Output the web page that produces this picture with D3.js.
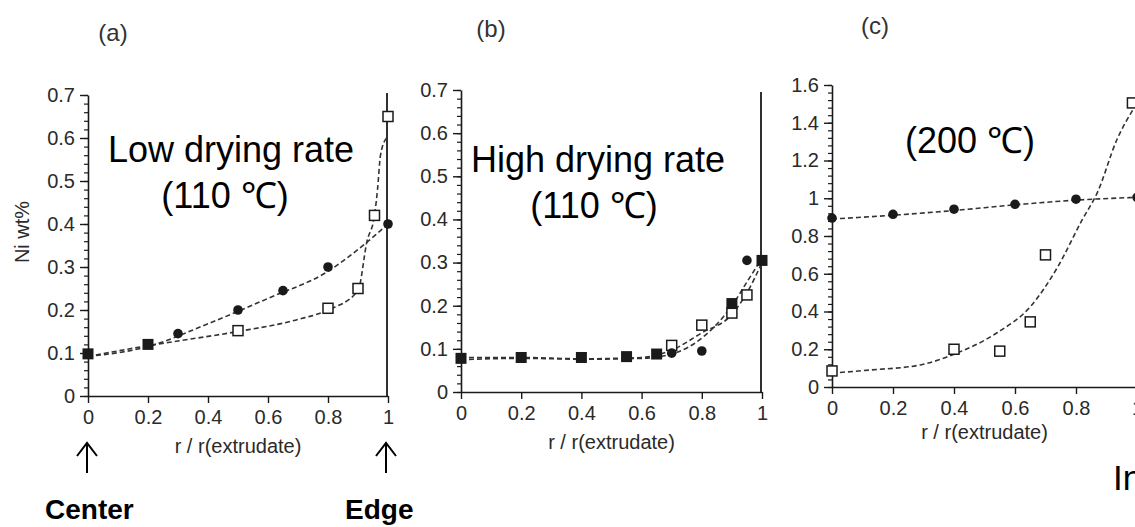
<!DOCTYPE html>
<html lang="en">
<head>
<meta charset="utf-8">
<title>Ni wt% profiles</title>
<script src="https://cdn.jsdelivr.net/npm/d3@7"></script>
<style>
  body { margin: 0; background: #fff; }
  svg { display: block; font-family: "Liberation Sans", Arial, sans-serif; }
</style>
</head>
<body>
<svg id="chart" width="1135" height="527"></svg>
<script>
// ---- data ----
var xTicks = [0, 0.2, 0.4, 0.6, 0.8, 1];
var yTicksAB = [0, 0.1, 0.2, 0.3, 0.4, 0.5, 0.6, 0.7];
var yTicksC = [0, 0.2, 0.4, 0.6, 0.8, 1, 1.2, 1.4, 1.6];

// (a) low drying rate, 110 C
var aCircles = [[0.3, 0.145], [0.5, 0.2], [0.65, 0.245], [0.8, 0.3], [1.0, 0.4]];
var aSquares = [[0.5, 0.152], [0.8, 0.204], [0.9, 0.25], [0.955, 0.42], [1.0, 0.65]];
var aSolid = [[0, 0.098], [0.2, 0.12]];
var aCircFit = [[0, 0.092], [0.2, 0.115], [0.4, 0.168], [0.6, 0.227], [0.8, 0.29], [0.92, 0.352], [1.0, 0.4]];
var aSqFit = [[0, 0.092], [0.2, 0.117], [0.3, 0.128], [0.5, 0.15], [0.7, 0.178], [0.8, 0.2], [0.9, 0.245],
              [0.93, 0.36], [0.955, 0.42], [0.965, 0.48], [0.975, 0.56], [0.995, 0.6]];

// (b) high drying rate, 110 C
var bCircles = [[0.7, 0.09], [0.8, 0.095], [0.95, 0.305]];
var bSquares = [[0.7, 0.108], [0.8, 0.155], [0.9, 0.183], [0.95, 0.225]];
var bSolid = [[0, 0.078], [0.2, 0.08], [0.4, 0.08], [0.55, 0.082], [0.65, 0.088], [0.9, 0.205], [1.0, 0.305]];
var bCircFit = [[0, 0.075], [0.2, 0.078], [0.4, 0.076], [0.6, 0.078], [0.7, 0.088], [0.8, 0.125], [0.9, 0.2], [0.95, 0.255], [1.0, 0.31]];
var bSqFit = [[0, 0.08], [0.2, 0.08], [0.4, 0.077], [0.6, 0.08], [0.7, 0.097], [0.8, 0.137], [0.9, 0.18], [0.95, 0.23], [1.0, 0.3]];

// (c) 200 C
var cCircles = [[0, 0.895], [0.2, 0.915], [0.4, 0.942], [0.6, 0.968], [0.8, 0.995], [1.0, 1.005]];
var cSquares = [[0, 0.085], [0.4, 0.2], [0.55, 0.19], [0.65, 0.345], [0.7, 0.7], [0.985, 1.505]];
var cSolid = [];
var cCircFit = [[0, 0.89], [0.2, 0.91], [0.4, 0.935], [0.6, 0.965], [0.8, 0.99], [1.0, 1.005]];
var cSqFit = [[0, 0.074], [0.125, 0.09], [0.29, 0.117], [0.41, 0.18], [0.54, 0.286], [0.65, 0.425],
              [0.74, 0.636], [0.82, 0.885], [0.87, 1.03], [0.934, 1.31], [0.987, 1.47]];

var svg = d3.select("#chart");
var fmt = d3.format(".1~f");
var ink = "#1a1a1a";

function panel(p) {
  var x = d3.scaleLinear().domain([0, 1]).range([p.left, p.right]);
  var y = d3.scaleLinear().domain([0, p.ymax]).range([p.bottom, p.top]);
  var g = svg.append("g");

  // minor y ticks
  g.append("g")
    .attr("transform", "translate(" + p.left + ",0)")
    .call(d3.axisLeft(y).tickValues(d3.range(0, p.ymax + 1e-9, p.minor)).tickSize(4).tickFormat(""))
    .call(function(s) { s.select(".domain").remove(); s.selectAll("line").attr("stroke", ink).attr("stroke-width", 1.2); });

  // major y axis
  g.append("g")
    .attr("transform", "translate(" + p.left + ",0)")
    .call(d3.axisLeft(y).tickValues(p.yticks).tickSize(8).tickPadding(5).tickSizeOuter(0).tickFormat(fmt))
    .call(function(s) {
      s.select(".domain").attr("stroke", ink).attr("stroke-width", 1.6);
      s.selectAll("line").attr("stroke", ink).attr("stroke-width", 1.4);
      s.selectAll("text").attr("font-size", 20).attr("fill", "#2a2a2a");
    });

  // x axis
  g.append("g")
    .attr("transform", "translate(0," + p.bottom + ")")
    .call(d3.axisBottom(x).tickValues(xTicks).tickSize(7).tickPadding(7).tickSizeOuter(0).tickFormat(fmt))
    .call(function(s) {
      s.select(".domain").attr("stroke", ink).attr("stroke-width", 1.6);
      s.selectAll("line").attr("stroke", ink).attr("stroke-width", 1.4);
      s.selectAll("text").attr("font-size", 20).attr("fill", "#2a2a2a");
    });

  // edge line at r = 1
  g.append("line")
    .attr("x1", x(1) - 1).attr("x2", x(1) - 1)
    .attr("y1", p.bottom).attr("y2", p.edgeTop)
    .attr("stroke", ink).attr("stroke-width", 1.8);

  g.append("text")
    .attr("x", x(0.5)).attr("y", p.xlabY)
    .attr("text-anchor", "middle").attr("font-size", 20).attr("fill", "#2a2a2a")
    .text("r / r(extrudate)");

  // fitted dashed curves
  var line = d3.line().x(function(d) { return x(d[0]); }).y(function(d) { return y(d[1]); }).curve(d3.curveMonotoneX);
  [p.circFit, p.sqFit].forEach(function(f) {
    g.append("path").attr("d", line(f))
      .attr("fill", "none").attr("stroke", "#333").attr("stroke-width", 1.6)
      .attr("stroke-dasharray", "5,3");
  });

  // markers
  g.selectAll(".sq").data(p.squares).enter().append("rect")
    .attr("x", function(d) { return x(d[0]) - 5; })
    .attr("y", function(d) { return y(d[1]) - 5; })
    .attr("width", 10).attr("height", 10)
    .attr("fill", "#fff").attr("stroke", ink).attr("stroke-width", 1.5);

  g.selectAll(".solid").data(p.solid).enter().append("rect")
    .attr("x", function(d) { return x(d[0]) - 5.5; })
    .attr("y", function(d) { return y(d[1]) - 5.5; })
    .attr("width", 11).attr("height", 11)
    .attr("fill", ink);

  g.selectAll(".ci").data(p.circles).enter().append("circle")
    .attr("cx", function(d) { return x(d[0]); })
    .attr("cy", function(d) { return y(d[1]); })
    .attr("r", 4.8).attr("fill", ink);

  p.notes.forEach(function(n) {
    g.append("text").attr("x", n[0]).attr("y", n[1])
      .attr("text-anchor", "middle").attr("font-size", 36).attr("fill", "#000")
      .text(n[2]);
  });

  svg.append("text").attr("x", p.tag[0]).attr("y", p.tag[1])
    .attr("text-anchor", "middle").attr("font-size", 24).attr("fill", "#333")
    .text(p.tag[2]);
}

panel({ left: 88, right: 388, top: 95, bottom: 396, ymax: 0.7, minor: 0.02, yticks: yTicksAB, edgeTop: 93,
        xlabY: 453, circles: aCircles, squares: aSquares, solid: aSolid, circFit: aCircFit, sqFit: aSqFit,
        notes: [[231, 162, "Low drying rate"], [225, 208, "(110 \u2103)"]], tag: [113, 41, "(a)"] });

panel({ left: 461, right: 762, top: 90, bottom: 392, ymax: 0.7, minor: 0.02, yticks: yTicksAB, edgeTop: 92,
        xlabY: 449, circles: bCircles, squares: bSquares, solid: bSolid, circFit: bCircFit, sqFit: bSqFit,
        notes: [[598, 172, "High drying rate"], [594, 218, "(110 \u2103)"]], tag: [491, 37, "(b)"] });

panel({ left: 832, right: 1137, top: 85, bottom: 387, ymax: 1.6, minor: 0.04, yticks: yTicksC, edgeTop: 83,
        xlabY: 439, circles: cCircles, squares: cSquares, solid: cSolid, circFit: cCircFit, sqFit: cSqFit,
        notes: [[970, 153, "(200 \u2103)"]], tag: [875, 34, "(c)"] });

// y label
svg.append("text")
  .attr("transform", "translate(29,232) rotate(-90)")
  .attr("text-anchor", "middle").attr("font-size", 20).attr("fill", "#2a2a2a")
  .text("Ni wt%");

// center / edge arrows
[87, 386].forEach(function(ax) {
  svg.append("path")
    .attr("d", "M" + ax + ",473V443M" + (ax - 10) + ",456L" + ax + ",443L" + (ax + 10) + ",456")
    .attr("fill", "none").attr("stroke", "#000").attr("stroke-width", 2);
});
svg.append("text").attr("x", 45).attr("y", 519).attr("font-size", 28).attr("font-weight", "bold").text("Center");
svg.append("text").attr("x", 345).attr("y", 519).attr("font-size", 28).attr("font-weight", "bold").text("Edge");
svg.append("text").attr("x", 1113).attr("y", 490).attr("font-size", 35).text("In");
</script>
</body>
</html>
